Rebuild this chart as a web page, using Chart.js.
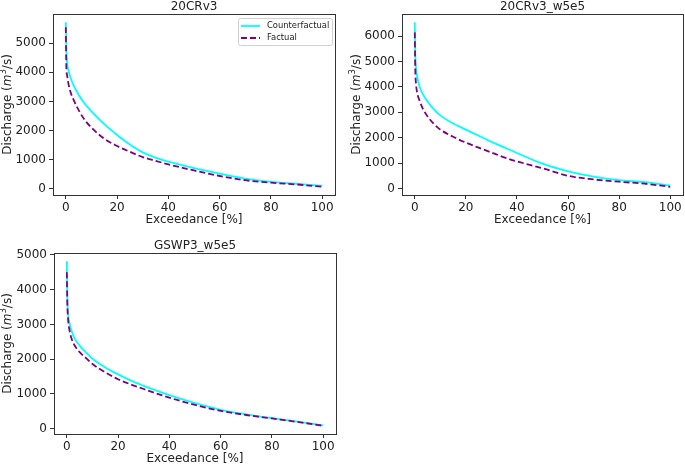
<!DOCTYPE html>
<html>
<head>
<meta charset="utf-8">
<script src="https://cdn.jsdelivr.net/npm/chart.js@4.4.0/dist/chart.umd.min.js"></script>
<style>
  html, body { margin: 0; padding: 0; background: #fff; }
  #wrap { position: relative; width: 685px; height: 466px; overflow: hidden; }
  canvas { position: absolute; }
</style>
</head>
<body>
<div id="wrap">
  <canvas id="c1" width="342" height="230" style="left:0;top:0"></canvas>
  <canvas id="c2" width="342" height="230" style="left:343px;top:0"></canvas>
  <canvas id="c3" width="342" height="227" style="left:0;top:239px"></canvas>
</div>
<script>
// exceedance probability [%], shared by all curves
const exceedance = [0, 0.2, 0.5, 1, 2, 3, 5, 7.5, 10, 15, 20, 25, 30, 35, 40, 50, 60, 70, 80, 90, 100];

// 20CRv3
const cf20CRv3 = [5720, 4900, 4350, 4080, 3780, 3560, 3230, 2910, 2660, 2220, 1850, 1520, 1250, 1070, 930, 710, 520, 350, 235, 170, 100];
const fa20CRv3 = [5550, 4200, 3900, 3620, 3280, 3060, 2700, 2350, 2100, 1720, 1470, 1270, 1090, 960, 840, 630, 440, 295, 210, 150, 70];

// 20CRv3_w5e5
const cf20CRv3w5e5 = [6550, 5300, 4750, 4380, 3980, 3750, 3430, 3120, 2880, 2560, 2320, 2080, 1840, 1620, 1400, 980, 680, 470, 330, 250, 120];
const fa20CRv3w5e5 = [6150, 4700, 4100, 3750, 3430, 3180, 2840, 2540, 2320, 2040, 1810, 1610, 1420, 1230, 1070, 800, 500, 360, 270, 190, 70];

// GSWP3_w5e5
const cfGSWP3 = [4820, 3800, 3300, 3050, 2780, 2600, 2390, 2190, 2010, 1760, 1560, 1380, 1230, 1090, 960, 730, 540, 410, 300, 200, 90];
const faGSWP3 = [4500, 3600, 3150, 2850, 2560, 2400, 2200, 2030, 1860, 1620, 1420, 1270, 1140, 1010, 890, 680, 510, 390, 290, 190, 80];

const xTicks = [0, 20, 40, 60, 80, 100];
const yTicks5000 = [0, 1000, 2000, 3000, 4000, 5000];
const yTicks6000 = [0, 1000, 2000, 3000, 4000, 5000, 6000];

const FONT = 'DejaVu Sans';
const TEXT = '#222';

// frame, title, y label (italic m, superscript 3) and the in-axes legend
const panelDecor = {
  id: 'panelDecor',
  afterDraw(chart, args, opts) {
    const { ctx, chartArea: a } = chart;
    ctx.save();
    ctx.strokeStyle = '#333';
    ctx.lineWidth = 1;
    ctx.strokeRect(Math.round(a.left) + 0.5, Math.round(a.top) + 0.5,
      Math.round(a.right - a.left), Math.round(a.bottom - a.top));

    ctx.fillStyle = TEXT;
    ctx.font = '12px "' + FONT + '"';
    ctx.textAlign = 'center';
    ctx.textBaseline = 'alphabetic';
    ctx.fillText(opts.title, (a.left + a.right) / 2, a.top - 4);

    // y label
    const parts = [
      { t: 'Discharge (', f: '12px "' + FONT + '"', dy: 0 },
      { t: 'm', f: 'italic 12px "' + FONT + '"', dy: 0 },
      { t: '3', f: '8.5px "' + FONT + '"', dy: -4 },
      { t: '/s)', f: '12px "' + FONT + '"', dy: 0 }
    ];
    let total = 0;
    parts.forEach(p => { ctx.font = p.f; p.w = ctx.measureText(p.t).width; total += p.w; });
    ctx.translate(opts.ylabelX, (a.top + a.bottom) / 2);
    ctx.rotate(-Math.PI / 2);
    ctx.textAlign = 'left';
    ctx.textBaseline = 'middle';
    let px = -total / 2;
    parts.forEach(p => { ctx.font = p.f; ctx.fillText(p.t, px, p.dy); px += p.w; });
    ctx.restore();

    if (opts.legend) {
      const L = opts.legend;
      ctx.save();
      ctx.fillStyle = 'rgba(255,255,255,0.8)';
      ctx.strokeStyle = '#d0d0d0';
      ctx.lineWidth = 1;
      ctx.beginPath();
      ctx.roundRect(L.x + 0.5, L.y + 0.5, L.w, L.h, 2);
      ctx.fill();
      ctx.stroke();
      ctx.font = '8.4px "' + FONT + '"';
      ctx.textBaseline = 'middle';
      chart.data.datasets.forEach((ds, i) => {
        const ry = L.y + 8 + i * 12;
        ctx.strokeStyle = ds.borderColor;
        ctx.lineWidth = ds.borderWidth;
        ctx.setLineDash(ds.borderDash || []);
        ctx.beginPath();
        ctx.moveTo(L.x + 3, ry);
        ctx.lineTo(L.x + 22, ry);
        ctx.stroke();
        ctx.setLineDash([]);
        ctx.fillStyle = TEXT;
        ctx.fillText(ds.label, L.x + 29, ry);
      });
      ctx.restore();
    }
  }
};

function paddedRange(a, b) {
  const lo = Math.min(...a, ...b), hi = Math.max(...a, ...b);
  const m = (hi - lo) * 0.05;
  return [lo - m, hi + m];
}

function makeChart(id, cfg) {
  const canvas = document.getElementById(id);
  const w = canvas.width, h = canvas.height;
  const area = cfg.area;
  const [ymin, ymax] = paddedRange(cfg.cf, cfg.fa);
  const tickFont = { family: FONT, size: 12 };
  const tickGrid = { display: true, drawOnChartArea: false, drawTicks: true, tickLength: 4, tickColor: '#333', tickWidth: 1 };

  return new Chart(canvas.getContext('2d'), {
    type: 'line',
    data: {
      datasets: [
        {
          label: 'Counterfactual',
          data: exceedance.map((x, i) => ({ x: x, y: cfg.cf[i] })),
          borderColor: '#00ffff',
          borderWidth: 1.8,
          pointRadius: 0,
          fill: false,
          cubicInterpolationMode: 'monotone',
          order: 1
        },
        {
          label: 'Factual',
          data: exceedance.map((x, i) => ({ x: x, y: cfg.fa[i] })),
          borderColor: '#800080',
          borderWidth: 1.8,
          borderDash: [6, 3],
          pointRadius: 0,
          fill: false,
          cubicInterpolationMode: 'monotone',
          order: 0
        }
      ]
    },
    options: {
      responsive: false,
      animation: false,
      layout: { padding: { top: area.top, right: w - area.right, left: 0, bottom: 0 } },
      plugins: {
        legend: { display: false },
        tooltip: { enabled: false },
        panelDecor: { title: cfg.title, ylabelX: cfg.ylabelX, legend: cfg.legend }
      },
      scales: {
        x: {
          type: 'linear',
          min: -5,
          max: 105,
          afterBuildTicks: s => { s.ticks = xTicks.map(v => ({ value: v })); },
          afterFit: s => { s.height = h - area.bottom; },
          grid: tickGrid,
          border: { display: false },
          ticks: { color: TEXT, font: tickFont, padding: 2, maxRotation: 0, autoSkip: false, callback: v => String(v) },
          title: { display: true, text: 'Exceedance [%]', color: TEXT, font: tickFont, padding: { top: 0, bottom: cfg.xTitlePad } }
        },
        y: {
          type: 'linear',
          min: ymin,
          max: ymax,
          afterBuildTicks: s => { s.ticks = cfg.yTicks.map(v => ({ value: v })); },
          afterFit: s => { s.width = area.left; },
          grid: tickGrid,
          border: { display: false },
          ticks: { color: TEXT, font: tickFont, padding: 3, autoSkip: false, callback: v => String(v) }
        }
      }
    },
    plugins: [panelDecor]
  });
}

makeChart('c1', {
  title: '20CRv3', cf: cf20CRv3, fa: fa20CRv3, yTicks: yTicks5000,
  area: { left: 53, top: 14, right: 335, bottom: 195 }, ylabelX: 8, xTitlePad: 3,
  legend: { x: 238, y: 18, w: 94, h: 27 }
});
makeChart('c2', {
  title: '20CRv3_w5e5', cf: cf20CRv3w5e5, fa: fa20CRv3w5e5, yTicks: yTicks6000,
  area: { left: 59, top: 14, right: 340, bottom: 195 }, ylabelX: 14, xTitlePad: 3
});
makeChart('c3', {
  title: 'GSWP3_w5e5', cf: cfGSWP3, fa: faGSWP3, yTicks: yTicks5000,
  area: { left: 54, top: 14, right: 336, bottom: 195 }, ylabelX: 8, xTitlePad: 0
});
</script>
</body>
</html>
